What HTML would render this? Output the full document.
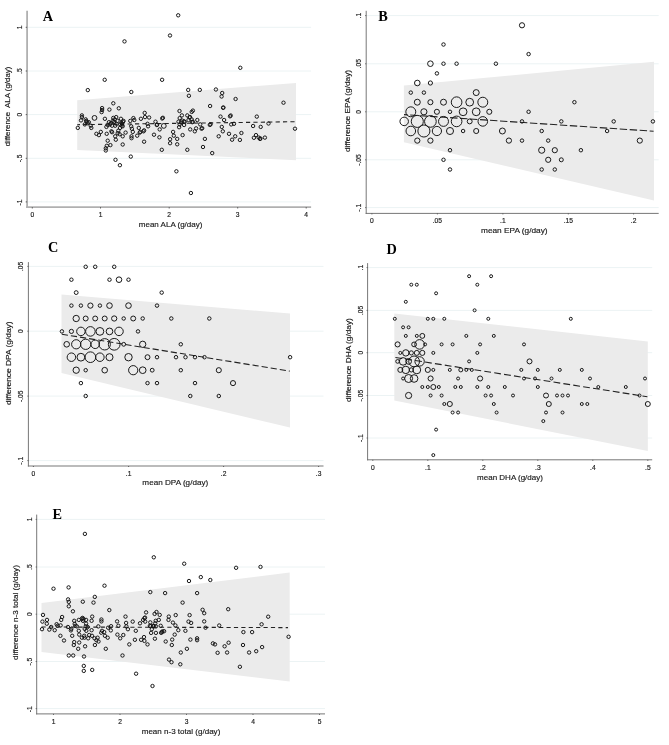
<!DOCTYPE html><html><head><meta charset="utf-8"><title>Figure</title><style>html,body{margin:0;padding:0;background:#fff}svg{display:block}text{font-family:"Liberation Sans",sans-serif;fill:#1a1a1a;stroke:#1a1a1a;stroke-width:1.6}.t{font-size:67.0px}.l{font-size:81.0px}.v{font-size:71px}.p{font-family:"Liberation Serif",serif;font-weight:bold;font-size:14.3px;fill:#000;stroke:none}circle{fill:none;stroke:#141414;stroke-width:0.98}</style></head><body>
<svg width="669" height="745" viewBox="0 0 669 745">
<rect width="669" height="745" fill="#fff"/>
<g><line x1="27.1" y1="27.3" x2="311.1" y2="27.3" stroke="#ecf3f4" stroke-width="1.0"/><line x1="27.1" y1="71.0" x2="311.1" y2="71.0" stroke="#ecf3f4" stroke-width="1.0"/><line x1="27.1" y1="114.6" x2="311.1" y2="114.6" stroke="#ecf3f4" stroke-width="1.0"/><line x1="27.1" y1="158.3" x2="311.1" y2="158.3" stroke="#ecf3f4" stroke-width="1.0"/><line x1="27.1" y1="201.9" x2="311.1" y2="201.9" stroke="#ecf3f4" stroke-width="1.0"/><polygon points="77.2,100.3 296.0,82.9 296.0,160.2 77.2,150.0" fill="#ebebeb"/><line x1="77.2" y1="124.7" x2="295.8" y2="121.7" stroke="#222" stroke-width="1.1" stroke-dasharray="4.2 3.2" stroke-dashoffset="1.4"/><g style="stroke-width:0.9"><circle cx="87.8" cy="90.1" r="1.70"/><circle cx="131.3" cy="92.0" r="1.70"/><circle cx="113.3" cy="103.3" r="1.70"/><circle cx="118.8" cy="108.3" r="1.70"/><circle cx="109.4" cy="109.6" r="1.70"/><circle cx="102.1" cy="108.1" r="1.70"/><circle cx="102.1" cy="110.0" r="1.70"/><circle cx="101.6" cy="112.1" r="1.70"/><circle cx="81.9" cy="115.4" r="1.70"/><circle cx="81.9" cy="117.1" r="1.70"/><circle cx="81.0" cy="120.4" r="1.70"/><circle cx="85.7" cy="119.4" r="1.70"/><circle cx="86.7" cy="121.7" r="1.70"/><circle cx="88.8" cy="122.2" r="1.70"/><circle cx="84.8" cy="124.4" r="1.70"/><circle cx="90.7" cy="125.7" r="1.70"/><circle cx="91.3" cy="127.9" r="1.70"/><circle cx="77.8" cy="127.9" r="1.70"/><circle cx="104.9" cy="118.8" r="1.70"/><circle cx="113.3" cy="117.9" r="1.70"/><circle cx="116.2" cy="117.1" r="1.70"/><circle cx="114.6" cy="119.4" r="1.70"/><circle cx="120.9" cy="118.8" r="1.70"/><circle cx="117.5" cy="120.9" r="1.70"/><circle cx="123.0" cy="121.7" r="1.70"/><circle cx="123.5" cy="120.9" r="1.70"/><circle cx="122.1" cy="123.8" r="1.70"/><circle cx="121.5" cy="122.9" r="1.70"/><circle cx="108.9" cy="122.2" r="1.70"/><circle cx="109.9" cy="124.4" r="1.70"/><circle cx="107.7" cy="125.0" r="1.70"/><circle cx="106.4" cy="126.9" r="1.70"/><circle cx="112.1" cy="125.7" r="1.70"/><circle cx="115.2" cy="125.7" r="1.70"/><circle cx="120.0" cy="127.9" r="1.70"/><circle cx="122.7" cy="126.3" r="1.70"/><circle cx="118.3" cy="130.7" r="1.70"/><circle cx="117.7" cy="133.2" r="1.70"/><circle cx="112.1" cy="132.2" r="1.70"/><circle cx="111.4" cy="131.3" r="1.70"/><circle cx="106.7" cy="133.8" r="1.70"/><circle cx="100.8" cy="131.9" r="1.70"/><circle cx="98.9" cy="135.1" r="1.70"/><circle cx="96.4" cy="133.8" r="1.70"/><circle cx="115.2" cy="136.3" r="1.70"/><circle cx="119.6" cy="134.2" r="1.70"/><circle cx="122.7" cy="136.3" r="1.70"/><circle cx="125.6" cy="132.6" r="1.70"/><circle cx="115.8" cy="139.7" r="1.70"/><circle cx="107.7" cy="140.7" r="1.70"/><circle cx="110.4" cy="145.1" r="1.70"/><circle cx="106.8" cy="145.8" r="1.70"/><circle cx="105.8" cy="148.3" r="1.70"/><circle cx="105.8" cy="150.5" r="1.70"/><circle cx="122.7" cy="144.5" r="1.70"/><circle cx="130.3" cy="120.9" r="1.70"/><circle cx="133.4" cy="118.1" r="1.70"/><circle cx="134.3" cy="120.0" r="1.70"/><circle cx="131.2" cy="126.3" r="1.70"/><circle cx="131.9" cy="128.8" r="1.70"/><circle cx="132.8" cy="131.9" r="1.70"/><circle cx="131.5" cy="136.3" r="1.70"/><circle cx="131.5" cy="138.2" r="1.70"/><circle cx="137.2" cy="135.7" r="1.70"/><circle cx="138.8" cy="127.9" r="1.70"/><circle cx="139.7" cy="132.6" r="1.70"/><circle cx="140.3" cy="131.9" r="1.70"/><circle cx="143.5" cy="131.3" r="1.70"/><circle cx="144.1" cy="130.4" r="1.70"/><circle cx="140.9" cy="118.8" r="1.70"/><circle cx="144.7" cy="112.9" r="1.70"/><circle cx="145.0" cy="117.1" r="1.70"/><circle cx="149.1" cy="117.5" r="1.70"/><circle cx="147.5" cy="123.8" r="1.70"/><circle cx="148.1" cy="126.3" r="1.70"/><circle cx="144.1" cy="141.7" r="1.70"/><circle cx="113.9" cy="121.9" r="1.70"/><circle cx="112.7" cy="120.9" r="1.70"/><circle cx="116.5" cy="123.8" r="1.70"/><circle cx="110.8" cy="123.2" r="1.70"/><circle cx="86.3" cy="120.9" r="1.70"/><circle cx="87.6" cy="123.2" r="1.70"/><circle cx="120.2" cy="124.4" r="1.70"/><circle cx="121.7" cy="125.7" r="1.70"/><circle cx="188.2" cy="89.9" r="1.70"/><circle cx="188.9" cy="95.8" r="1.70"/><circle cx="199.8" cy="89.9" r="1.70"/><circle cx="215.9" cy="89.5" r="1.70"/><circle cx="222.2" cy="93.0" r="1.70"/><circle cx="221.6" cy="96.5" r="1.70"/><circle cx="235.6" cy="99.0" r="1.70"/><circle cx="210.1" cy="106.0" r="1.70"/><circle cx="223.1" cy="107.8" r="1.70"/><circle cx="223.4" cy="107.5" r="1.70"/><circle cx="179.5" cy="111.0" r="1.70"/><circle cx="191.7" cy="111.9" r="1.70"/><circle cx="192.9" cy="110.6" r="1.70"/><circle cx="162.2" cy="118.5" r="1.70"/><circle cx="162.9" cy="117.8" r="1.70"/><circle cx="155.5" cy="121.7" r="1.70"/><circle cx="156.8" cy="125.0" r="1.70"/><circle cx="157.1" cy="124.7" r="1.70"/><circle cx="159.7" cy="129.4" r="1.70"/><circle cx="154.0" cy="134.7" r="1.70"/><circle cx="159.4" cy="137.3" r="1.70"/><circle cx="173.1" cy="131.9" r="1.70"/><circle cx="173.8" cy="135.7" r="1.70"/><circle cx="170.1" cy="139.2" r="1.70"/><circle cx="177.2" cy="138.9" r="1.70"/><circle cx="170.1" cy="143.2" r="1.70"/><circle cx="177.2" cy="144.3" r="1.70"/><circle cx="161.8" cy="149.8" r="1.70"/><circle cx="187.3" cy="149.8" r="1.70"/><circle cx="182.6" cy="135.1" r="1.70"/><circle cx="179.7" cy="118.1" r="1.70"/><circle cx="181.9" cy="115.4" r="1.70"/><circle cx="178.5" cy="121.7" r="1.70"/><circle cx="179.7" cy="124.4" r="1.70"/><circle cx="179.1" cy="127.2" r="1.70"/><circle cx="184.1" cy="121.3" r="1.70"/><circle cx="184.6" cy="121.9" r="1.70"/><circle cx="184.1" cy="125.0" r="1.70"/><circle cx="187.3" cy="115.4" r="1.70"/><circle cx="189.5" cy="117.5" r="1.70"/><circle cx="190.0" cy="117.0" r="1.70"/><circle cx="191.7" cy="119.4" r="1.70"/><circle cx="192.3" cy="122.2" r="1.70"/><circle cx="192.8" cy="121.7" r="1.70"/><circle cx="197.3" cy="120.0" r="1.70"/><circle cx="190.2" cy="129.4" r="1.70"/><circle cx="196.1" cy="128.4" r="1.70"/><circle cx="194.8" cy="131.3" r="1.70"/><circle cx="200.2" cy="124.4" r="1.70"/><circle cx="201.5" cy="128.7" r="1.70"/><circle cx="202.2" cy="128.2" r="1.70"/><circle cx="204.9" cy="138.9" r="1.70"/><circle cx="203.0" cy="147.0" r="1.70"/><circle cx="209.8" cy="124.9" r="1.70"/><circle cx="210.6" cy="124.3" r="1.70"/><circle cx="220.5" cy="116.6" r="1.70"/><circle cx="224.1" cy="120.0" r="1.70"/><circle cx="230.0" cy="116.3" r="1.70"/><circle cx="230.7" cy="115.5" r="1.70"/><circle cx="221.8" cy="126.9" r="1.70"/><circle cx="222.8" cy="131.3" r="1.70"/><circle cx="218.7" cy="136.3" r="1.70"/><circle cx="229.0" cy="133.8" r="1.70"/><circle cx="231.2" cy="124.4" r="1.70"/><circle cx="234.0" cy="123.8" r="1.70"/><circle cx="235.2" cy="136.3" r="1.70"/><circle cx="232.1" cy="139.7" r="1.70"/><circle cx="182.3" cy="120.6" r="1.70"/><circle cx="181.0" cy="122.5" r="1.70"/><circle cx="188.5" cy="120.0" r="1.70"/><circle cx="283.5" cy="102.7" r="1.70"/><circle cx="256.8" cy="116.6" r="1.70"/><circle cx="268.5" cy="123.5" r="1.70"/><circle cx="253.1" cy="126.0" r="1.70"/><circle cx="260.7" cy="126.9" r="1.70"/><circle cx="295.0" cy="128.7" r="1.70"/><circle cx="241.4" cy="133.0" r="1.70"/><circle cx="256.0" cy="135.1" r="1.70"/><circle cx="253.9" cy="137.8" r="1.70"/><circle cx="258.7" cy="137.6" r="1.70"/><circle cx="260.0" cy="138.9" r="1.70"/><circle cx="260.4" cy="138.5" r="1.70"/><circle cx="264.9" cy="137.6" r="1.70"/><circle cx="239.9" cy="139.9" r="1.70"/><circle cx="124.5" cy="41.4" r="1.70"/><circle cx="178.2" cy="15.3" r="1.70"/><circle cx="170.0" cy="35.5" r="1.70"/><circle cx="240.3" cy="67.8" r="1.70"/><circle cx="104.7" cy="79.8" r="1.70"/><circle cx="162.1" cy="79.8" r="1.70"/><circle cx="115.5" cy="159.8" r="1.70"/><circle cx="119.9" cy="165.2" r="1.70"/><circle cx="130.8" cy="156.6" r="1.70"/><circle cx="212.2" cy="153.1" r="1.70"/><circle cx="176.4" cy="171.3" r="1.70"/><circle cx="190.9" cy="193.0" r="1.70"/><circle cx="94.5" cy="117.9" r="2.40"/><circle cx="163.8" cy="125.9" r="2.40"/></g><line x1="27.1" y1="10.7" x2="27.1" y2="208.0" stroke="#b0b0b0" stroke-width="1.8"/><line x1="26.2" y1="207.1" x2="311.1" y2="207.1" stroke="#b0b0b0" stroke-width="1.8"/><line x1="25.7" y1="27.3" x2="27.1" y2="27.3" stroke="#444" stroke-width="0.8"/><text class="t" text-anchor="middle" transform="translate(22.10,27.30) rotate(-90) scale(0.1)">1</text><line x1="25.7" y1="71.0" x2="27.1" y2="71.0" stroke="#444" stroke-width="0.8"/><text class="t" text-anchor="middle" transform="translate(22.10,71.00) rotate(-90) scale(0.1)">.5</text><line x1="25.7" y1="114.6" x2="27.1" y2="114.6" stroke="#444" stroke-width="0.8"/><text class="t" text-anchor="middle" transform="translate(22.10,114.60) rotate(-90) scale(0.1)">0</text><line x1="25.7" y1="158.3" x2="27.1" y2="158.3" stroke="#444" stroke-width="0.8"/><text class="t" text-anchor="middle" transform="translate(22.10,158.45) rotate(-90) scale(0.1)">-.5</text><line x1="25.7" y1="201.9" x2="27.1" y2="201.9" stroke="#444" stroke-width="0.8"/><text class="t" text-anchor="middle" transform="translate(22.10,202.60) rotate(-90) scale(0.1)">-1</text><line x1="32.3" y1="207.1" x2="32.3" y2="208.5" stroke="#444" stroke-width="0.8"/><text class="t" text-anchor="middle" transform="translate(32.30,216.85) scale(0.1)">0</text><line x1="100.5" y1="207.1" x2="100.5" y2="208.5" stroke="#444" stroke-width="0.8"/><text class="t" text-anchor="middle" transform="translate(100.50,216.85) scale(0.1)">1</text><line x1="169.2" y1="207.1" x2="169.2" y2="208.5" stroke="#444" stroke-width="0.8"/><text class="t" text-anchor="middle" transform="translate(169.20,216.85) scale(0.1)">2</text><line x1="237.7" y1="207.1" x2="237.7" y2="208.5" stroke="#444" stroke-width="0.8"/><text class="t" text-anchor="middle" transform="translate(237.70,216.85) scale(0.1)">3</text><line x1="306.2" y1="207.1" x2="306.2" y2="208.5" stroke="#444" stroke-width="0.8"/><text class="t" text-anchor="middle" transform="translate(306.20,216.85) scale(0.1)">4</text><text class="l" text-anchor="middle" transform="translate(170.60,227.20) scale(0.0988,0.1)" xml:space="preserve">mean ALA (g/day)</text><text class="v" text-anchor="middle" transform="translate(10.00,106.50) rotate(-90) scale(0.1113,0.1)" xml:space="preserve">difference  ALA (g/day)</text><text class="p" x="42.7" y="20.7">A</text></g>
<g><line x1="366.2" y1="15.6" x2="658.7" y2="15.6" stroke="#ecf3f4" stroke-width="1.0"/><line x1="366.2" y1="63.8" x2="658.7" y2="63.8" stroke="#ecf3f4" stroke-width="1.0"/><line x1="366.2" y1="111.8" x2="658.7" y2="111.8" stroke="#ecf3f4" stroke-width="1.0"/><line x1="366.2" y1="159.8" x2="658.7" y2="159.8" stroke="#ecf3f4" stroke-width="1.0"/><line x1="366.2" y1="207.6" x2="658.7" y2="207.6" stroke="#ecf3f4" stroke-width="1.0"/><polygon points="403.9,85.6 654.0,61.8 654.0,200.6 403.9,142.3" fill="#ebebeb"/><line x1="404.0" y1="114.6" x2="653.6" y2="131.2" stroke="#222" stroke-width="1.1" stroke-dasharray="7.4 2.6" stroke-dashoffset="3.8"/><g style="stroke-width:1.15"><circle cx="443.5" cy="44.5" r="1.74"/><circle cx="430.4" cy="63.7" r="2.81"/><circle cx="443.5" cy="63.7" r="1.74"/><circle cx="456.6" cy="63.7" r="1.74"/><circle cx="495.9" cy="63.7" r="1.74"/><circle cx="436.9" cy="73.4" r="1.74"/><circle cx="417.3" cy="83.0" r="2.81"/><circle cx="430.4" cy="83.0" r="2.10"/><circle cx="410.8" cy="92.6" r="1.74"/><circle cx="423.9" cy="92.6" r="1.74"/><circle cx="476.2" cy="92.6" r="2.99"/><circle cx="417.3" cy="102.2" r="2.99"/><circle cx="430.4" cy="102.2" r="2.55"/><circle cx="443.5" cy="102.2" r="2.99"/><circle cx="456.6" cy="102.2" r="5.33"/><circle cx="469.7" cy="102.2" r="3.89"/><circle cx="482.8" cy="102.2" r="4.97"/><circle cx="410.8" cy="111.8" r="4.97"/><circle cx="423.9" cy="111.8" r="3.08"/><circle cx="436.9" cy="111.8" r="2.55"/><circle cx="450.0" cy="111.8" r="1.74"/><circle cx="463.1" cy="111.8" r="3.89"/><circle cx="476.2" cy="111.8" r="3.89"/><circle cx="489.3" cy="111.8" r="2.55"/><circle cx="404.2" cy="121.4" r="4.25"/><circle cx="417.3" cy="121.4" r="6.04"/><circle cx="430.4" cy="121.4" r="5.86"/><circle cx="443.5" cy="121.4" r="4.97"/><circle cx="456.6" cy="121.4" r="5.33"/><circle cx="469.7" cy="121.4" r="2.46"/><circle cx="482.8" cy="121.4" r="4.79"/><circle cx="410.8" cy="131.0" r="4.79"/><circle cx="423.9" cy="131.0" r="6.04"/><circle cx="436.9" cy="131.0" r="4.61"/><circle cx="450.0" cy="131.0" r="3.53"/><circle cx="463.1" cy="131.0" r="1.74"/><circle cx="476.2" cy="131.0" r="2.55"/><circle cx="502.4" cy="131.0" r="2.99"/><circle cx="417.3" cy="140.6" r="2.63"/><circle cx="430.4" cy="140.6" r="2.63"/><circle cx="508.9" cy="140.6" r="2.63"/><circle cx="450.0" cy="150.2" r="1.74"/><circle cx="443.5" cy="159.8" r="1.74"/><circle cx="450.0" cy="169.5" r="1.74"/><circle cx="522.0" cy="25.3" r="2.60"/><circle cx="528.6" cy="54.1" r="1.74"/><circle cx="574.4" cy="102.2" r="1.74"/><circle cx="528.6" cy="111.8" r="1.74"/><circle cx="522.0" cy="121.4" r="1.74"/><circle cx="561.3" cy="121.4" r="1.74"/><circle cx="613.7" cy="121.4" r="1.74"/><circle cx="652.9" cy="121.4" r="1.74"/><circle cx="541.7" cy="131.0" r="1.74"/><circle cx="607.1" cy="131.0" r="1.74"/><circle cx="522.0" cy="140.6" r="1.74"/><circle cx="548.2" cy="140.6" r="1.74"/><circle cx="639.8" cy="140.6" r="2.60"/><circle cx="541.7" cy="150.2" r="3.10"/><circle cx="554.8" cy="150.2" r="2.60"/><circle cx="580.9" cy="150.2" r="1.74"/><circle cx="548.2" cy="159.8" r="2.60"/><circle cx="561.3" cy="159.8" r="2.00"/><circle cx="541.7" cy="169.5" r="1.74"/><circle cx="554.8" cy="169.5" r="1.74"/></g><line x1="366.2" y1="10.8" x2="366.2" y2="213.9" stroke="#707070" stroke-width="0.95"/><line x1="365.7" y1="213.4" x2="658.7" y2="213.4" stroke="#707070" stroke-width="0.95"/><line x1="365.2" y1="15.6" x2="366.2" y2="15.6" stroke="#444" stroke-width="0.8"/><text class="t" text-anchor="middle" transform="translate(361.20,15.60) rotate(-90) scale(0.1)">.1</text><line x1="365.2" y1="63.8" x2="366.2" y2="63.8" stroke="#444" stroke-width="0.8"/><text class="t" text-anchor="middle" transform="translate(361.20,63.80) rotate(-90) scale(0.1)">.05</text><line x1="365.2" y1="111.8" x2="366.2" y2="111.8" stroke="#444" stroke-width="0.8"/><text class="t" text-anchor="middle" transform="translate(361.20,111.80) rotate(-90) scale(0.1)">0</text><line x1="365.2" y1="159.8" x2="366.2" y2="159.8" stroke="#444" stroke-width="0.8"/><text class="t" text-anchor="middle" transform="translate(361.20,159.95) rotate(-90) scale(0.1)">-.05</text><line x1="365.2" y1="207.6" x2="366.2" y2="207.6" stroke="#444" stroke-width="0.8"/><text class="t" text-anchor="middle" transform="translate(361.20,207.75) rotate(-90) scale(0.1)">-.1</text><line x1="371.9" y1="213.4" x2="371.9" y2="214.4" stroke="#444" stroke-width="0.8"/><text class="t" text-anchor="middle" transform="translate(371.90,223.20) scale(0.1)">0</text><line x1="437.4" y1="213.4" x2="437.4" y2="214.4" stroke="#444" stroke-width="0.8"/><text class="t" text-anchor="middle" transform="translate(437.40,223.20) scale(0.1)">.05</text><line x1="502.9" y1="213.4" x2="502.9" y2="214.4" stroke="#444" stroke-width="0.8"/><text class="t" text-anchor="middle" transform="translate(502.90,223.20) scale(0.1)">.1</text><line x1="568.3" y1="213.4" x2="568.3" y2="214.4" stroke="#444" stroke-width="0.8"/><text class="t" text-anchor="middle" transform="translate(568.30,223.20) scale(0.1)">.15</text><line x1="633.6" y1="213.4" x2="633.6" y2="214.4" stroke="#444" stroke-width="0.8"/><text class="t" text-anchor="middle" transform="translate(633.60,223.20) scale(0.1)">.2</text><text class="l" text-anchor="middle" transform="translate(514.30,233.00) scale(0.1025,0.1)" xml:space="preserve">mean EPA (g/day)</text><text class="v" text-anchor="middle" transform="translate(349.50,111.00) rotate(-90) scale(0.1169,0.1)" xml:space="preserve">difference EPA (g/day)</text><text class="p" x="378.2" y="20.7">B</text></g>
<g><line x1="28.4" y1="266.4" x2="323.5" y2="266.4" stroke="#ecf3f4" stroke-width="1.0"/><line x1="28.4" y1="331.2" x2="323.5" y2="331.2" stroke="#ecf3f4" stroke-width="1.0"/><line x1="28.4" y1="396.1" x2="323.5" y2="396.1" stroke="#ecf3f4" stroke-width="1.0"/><line x1="28.4" y1="460.6" x2="323.5" y2="460.6" stroke="#ecf3f4" stroke-width="1.0"/><polygon points="61.5,294.6 290.0,313.5 290.0,427.5 61.5,373.0" fill="#ebebeb"/><line x1="61.8" y1="334.2" x2="289.7" y2="371.1" stroke="#222" stroke-width="1.1" stroke-dasharray="6.2 3.0" stroke-dashoffset="0"/><g style="stroke-width:1.15"><circle cx="85.7" cy="266.8" r="1.74"/><circle cx="95.2" cy="266.8" r="1.74"/><circle cx="114.2" cy="266.8" r="1.74"/><circle cx="71.4" cy="279.7" r="1.74"/><circle cx="109.5" cy="279.7" r="1.74"/><circle cx="119.0" cy="279.7" r="2.81"/><circle cx="128.5" cy="279.7" r="1.74"/><circle cx="76.2" cy="292.6" r="1.92"/><circle cx="161.7" cy="292.6" r="1.74"/><circle cx="71.4" cy="305.6" r="1.74"/><circle cx="80.9" cy="305.6" r="1.74"/><circle cx="90.4" cy="305.6" r="2.63"/><circle cx="99.9" cy="305.6" r="1.74"/><circle cx="109.5" cy="305.6" r="2.81"/><circle cx="128.5" cy="305.6" r="2.81"/><circle cx="157.0" cy="305.6" r="1.74"/><circle cx="76.2" cy="318.5" r="3.17"/><circle cx="85.7" cy="318.5" r="2.46"/><circle cx="95.2" cy="318.5" r="2.46"/><circle cx="104.7" cy="318.5" r="2.46"/><circle cx="114.2" cy="318.5" r="2.63"/><circle cx="123.7" cy="318.5" r="1.74"/><circle cx="133.2" cy="318.5" r="2.46"/><circle cx="142.7" cy="318.5" r="1.74"/><circle cx="171.3" cy="318.5" r="1.74"/><circle cx="209.3" cy="318.5" r="1.74"/><circle cx="61.9" cy="331.4" r="1.74"/><circle cx="71.4" cy="331.4" r="2.10"/><circle cx="80.9" cy="331.4" r="4.25"/><circle cx="90.4" cy="331.4" r="4.79"/><circle cx="99.9" cy="331.4" r="3.89"/><circle cx="109.5" cy="331.4" r="3.35"/><circle cx="119.0" cy="331.4" r="4.25"/><circle cx="138.0" cy="331.4" r="1.74"/><circle cx="66.7" cy="344.3" r="2.81"/><circle cx="76.2" cy="344.3" r="4.61"/><circle cx="85.7" cy="344.3" r="5.15"/><circle cx="95.2" cy="344.3" r="4.25"/><circle cx="104.7" cy="344.3" r="5.68"/><circle cx="114.2" cy="344.3" r="5.86"/><circle cx="123.7" cy="344.3" r="1.92"/><circle cx="142.7" cy="344.3" r="3.17"/><circle cx="180.8" cy="344.3" r="1.74"/><circle cx="71.4" cy="357.2" r="4.25"/><circle cx="80.9" cy="357.2" r="3.89"/><circle cx="90.4" cy="357.2" r="5.33"/><circle cx="99.9" cy="357.2" r="4.25"/><circle cx="109.5" cy="357.2" r="3.53"/><circle cx="128.5" cy="357.2" r="3.71"/><circle cx="147.5" cy="357.2" r="2.46"/><circle cx="157.0" cy="357.2" r="1.74"/><circle cx="176.0" cy="357.2" r="1.74"/><circle cx="185.5" cy="357.2" r="1.74"/><circle cx="195.0" cy="357.2" r="1.74"/><circle cx="204.5" cy="357.2" r="1.74"/><circle cx="290.1" cy="357.2" r="1.74"/><circle cx="76.2" cy="370.2" r="3.17"/><circle cx="85.7" cy="370.2" r="1.74"/><circle cx="104.7" cy="370.2" r="2.81"/><circle cx="133.2" cy="370.2" r="4.61"/><circle cx="142.7" cy="370.2" r="3.35"/><circle cx="152.2" cy="370.2" r="1.92"/><circle cx="180.8" cy="370.2" r="1.74"/><circle cx="218.8" cy="370.2" r="2.55"/><circle cx="80.9" cy="383.1" r="1.74"/><circle cx="147.5" cy="383.1" r="1.74"/><circle cx="157.0" cy="383.1" r="1.74"/><circle cx="195.0" cy="383.1" r="1.74"/><circle cx="233.0" cy="383.1" r="2.55"/><circle cx="85.7" cy="396.0" r="1.74"/><circle cx="190.3" cy="396.0" r="1.74"/><circle cx="218.8" cy="396.0" r="1.74"/></g><line x1="28.4" y1="262.1" x2="28.4" y2="466.5" stroke="#707070" stroke-width="0.95"/><line x1="27.9" y1="466.0" x2="323.5" y2="466.0" stroke="#707070" stroke-width="0.95"/><line x1="27.4" y1="266.4" x2="28.4" y2="266.4" stroke="#444" stroke-width="0.8"/><text class="t" text-anchor="middle" transform="translate(23.40,266.40) rotate(-90) scale(0.1)">.05</text><line x1="27.4" y1="331.2" x2="28.4" y2="331.2" stroke="#444" stroke-width="0.8"/><text class="t" text-anchor="middle" transform="translate(23.40,331.20) rotate(-90) scale(0.1)">0</text><line x1="27.4" y1="396.1" x2="28.4" y2="396.1" stroke="#444" stroke-width="0.8"/><text class="t" text-anchor="middle" transform="translate(23.40,396.25) rotate(-90) scale(0.1)">-.05</text><line x1="27.4" y1="460.6" x2="28.4" y2="460.6" stroke="#444" stroke-width="0.8"/><text class="t" text-anchor="middle" transform="translate(23.40,460.75) rotate(-90) scale(0.1)">-.1</text><line x1="33.4" y1="466.0" x2="33.4" y2="467.0" stroke="#444" stroke-width="0.8"/><text class="t" text-anchor="middle" transform="translate(33.40,475.80) scale(0.1)">0</text><line x1="128.6" y1="466.0" x2="128.6" y2="467.0" stroke="#444" stroke-width="0.8"/><text class="t" text-anchor="middle" transform="translate(128.60,475.80) scale(0.1)">.1</text><line x1="223.6" y1="466.0" x2="223.6" y2="467.0" stroke="#444" stroke-width="0.8"/><text class="t" text-anchor="middle" transform="translate(223.60,475.80) scale(0.1)">.2</text><line x1="318.6" y1="466.0" x2="318.6" y2="467.0" stroke="#444" stroke-width="0.8"/><text class="t" text-anchor="middle" transform="translate(318.60,475.80) scale(0.1)">.3</text><text class="l" text-anchor="middle" transform="translate(175.30,485.40) scale(0.1006,0.1)" xml:space="preserve">mean DPA (g/day)</text><text class="v" text-anchor="middle" transform="translate(11.30,363.20) rotate(-90) scale(0.1183,0.1)" xml:space="preserve">difference DPA (g/day)</text><text class="p" x="47.9" y="251.8">C</text></g>
<g><line x1="367.6" y1="267.6" x2="652.2" y2="267.6" stroke="#ecf3f4" stroke-width="1.0"/><line x1="367.6" y1="310.4" x2="652.2" y2="310.4" stroke="#ecf3f4" stroke-width="1.0"/><line x1="367.6" y1="352.7" x2="652.2" y2="352.7" stroke="#ecf3f4" stroke-width="1.0"/><line x1="367.6" y1="395.5" x2="652.2" y2="395.5" stroke="#ecf3f4" stroke-width="1.0"/><line x1="367.6" y1="438.0" x2="652.2" y2="438.0" stroke="#ecf3f4" stroke-width="1.0"/><polygon points="394.3,313.4 647.8,341.6 647.8,451.0 394.3,400.5" fill="#ebebeb"/><line x1="394.6" y1="357.3" x2="647.4" y2="396.7" stroke="#222" stroke-width="1.1" stroke-dasharray="6.8 3.2" stroke-dashoffset="-0.8"/><g style="stroke-width:1.0"><circle cx="469.1" cy="276.2" r="1.50"/><circle cx="491.1" cy="276.2" r="1.50"/><circle cx="411.3" cy="284.7" r="1.50"/><circle cx="416.8" cy="284.7" r="1.50"/><circle cx="477.3" cy="284.7" r="1.50"/><circle cx="436.1" cy="293.3" r="1.50"/><circle cx="405.8" cy="301.8" r="1.50"/><circle cx="474.6" cy="310.3" r="1.50"/><circle cx="394.8" cy="318.8" r="1.50"/><circle cx="427.8" cy="318.8" r="1.50"/><circle cx="433.3" cy="318.8" r="1.50"/><circle cx="444.3" cy="318.8" r="1.50"/><circle cx="488.3" cy="318.8" r="1.50"/><circle cx="570.8" cy="318.8" r="1.50"/><circle cx="403.1" cy="327.3" r="1.50"/><circle cx="408.6" cy="327.3" r="1.50"/><circle cx="405.8" cy="335.9" r="1.50"/><circle cx="416.8" cy="335.9" r="1.50"/><circle cx="422.3" cy="335.9" r="2.45"/><circle cx="466.3" cy="335.9" r="1.50"/><circle cx="493.8" cy="335.9" r="1.50"/><circle cx="397.6" cy="344.4" r="2.55"/><circle cx="414.1" cy="344.4" r="2.40"/><circle cx="419.6" cy="344.4" r="4.80"/><circle cx="425.1" cy="344.4" r="1.50"/><circle cx="441.6" cy="344.4" r="1.50"/><circle cx="452.6" cy="344.4" r="1.50"/><circle cx="480.1" cy="344.4" r="1.50"/><circle cx="524.0" cy="344.4" r="1.50"/><circle cx="400.3" cy="352.9" r="1.50"/><circle cx="405.8" cy="352.9" r="3.20"/><circle cx="411.3" cy="352.9" r="2.10"/><circle cx="416.8" cy="352.9" r="2.50"/><circle cx="422.3" cy="352.9" r="2.55"/><circle cx="433.3" cy="352.9" r="1.50"/><circle cx="477.3" cy="352.9" r="1.50"/><circle cx="397.6" cy="361.4" r="1.85"/><circle cx="403.1" cy="361.4" r="3.80"/><circle cx="408.6" cy="361.4" r="2.90"/><circle cx="414.1" cy="361.4" r="5.40"/><circle cx="419.6" cy="361.4" r="4.70"/><circle cx="469.1" cy="361.4" r="1.50"/><circle cx="529.5" cy="361.4" r="2.50"/><circle cx="400.3" cy="369.9" r="2.50"/><circle cx="405.8" cy="369.9" r="3.70"/><circle cx="411.3" cy="369.9" r="2.10"/><circle cx="416.8" cy="369.9" r="3.90"/><circle cx="427.8" cy="369.9" r="2.55"/><circle cx="433.3" cy="369.9" r="1.50"/><circle cx="449.8" cy="369.9" r="1.50"/><circle cx="460.8" cy="369.9" r="2.00"/><circle cx="466.3" cy="369.9" r="1.50"/><circle cx="471.8" cy="369.9" r="1.50"/><circle cx="521.3" cy="369.9" r="1.50"/><circle cx="537.8" cy="369.9" r="1.50"/><circle cx="559.8" cy="369.9" r="1.50"/><circle cx="581.8" cy="369.9" r="1.50"/><circle cx="403.1" cy="378.5" r="1.50"/><circle cx="408.6" cy="378.5" r="4.00"/><circle cx="414.1" cy="378.5" r="3.80"/><circle cx="430.6" cy="378.5" r="2.55"/><circle cx="458.1" cy="378.5" r="1.50"/><circle cx="480.1" cy="378.5" r="2.55"/><circle cx="524.0" cy="378.5" r="1.50"/><circle cx="535.0" cy="378.5" r="1.50"/><circle cx="551.5" cy="378.5" r="1.50"/><circle cx="590.0" cy="378.5" r="1.50"/><circle cx="645.0" cy="378.5" r="1.50"/><circle cx="422.3" cy="387.0" r="1.50"/><circle cx="427.8" cy="387.0" r="1.50"/><circle cx="433.3" cy="387.0" r="2.50"/><circle cx="438.8" cy="387.0" r="1.50"/><circle cx="455.3" cy="387.0" r="1.50"/><circle cx="460.8" cy="387.0" r="1.50"/><circle cx="477.3" cy="387.0" r="1.50"/><circle cx="488.3" cy="387.0" r="1.50"/><circle cx="504.8" cy="387.0" r="1.50"/><circle cx="537.8" cy="387.0" r="1.50"/><circle cx="598.3" cy="387.0" r="1.50"/><circle cx="625.8" cy="387.0" r="1.50"/><circle cx="408.6" cy="395.5" r="3.10"/><circle cx="430.6" cy="395.5" r="1.50"/><circle cx="441.6" cy="395.5" r="1.50"/><circle cx="485.6" cy="395.5" r="1.50"/><circle cx="491.1" cy="395.5" r="1.50"/><circle cx="513.0" cy="395.5" r="1.50"/><circle cx="546.0" cy="395.5" r="2.50"/><circle cx="557.0" cy="395.5" r="1.50"/><circle cx="562.5" cy="395.5" r="1.50"/><circle cx="568.0" cy="395.5" r="1.50"/><circle cx="639.5" cy="395.5" r="1.50"/><circle cx="444.3" cy="404.0" r="1.50"/><circle cx="449.8" cy="404.0" r="2.55"/><circle cx="493.8" cy="404.0" r="1.50"/><circle cx="548.8" cy="404.0" r="2.50"/><circle cx="581.8" cy="404.0" r="1.50"/><circle cx="587.3" cy="404.0" r="1.50"/><circle cx="647.8" cy="404.0" r="2.50"/><circle cx="452.6" cy="412.5" r="1.50"/><circle cx="458.1" cy="412.5" r="1.50"/><circle cx="496.6" cy="412.5" r="1.50"/><circle cx="546.0" cy="412.5" r="1.50"/><circle cx="562.5" cy="412.5" r="1.50"/><circle cx="543.3" cy="421.1" r="1.50"/><circle cx="436.1" cy="429.6" r="1.50"/><circle cx="433.3" cy="455.1" r="1.50"/></g><line x1="367.6" y1="263.1" x2="367.6" y2="460.3" stroke="#707070" stroke-width="0.95"/><line x1="367.1" y1="459.8" x2="652.2" y2="459.8" stroke="#707070" stroke-width="0.95"/><line x1="366.6" y1="267.6" x2="367.6" y2="267.6" stroke="#444" stroke-width="0.8"/><text class="t" text-anchor="middle" transform="translate(362.60,267.60) rotate(-90) scale(0.1)">.1</text><line x1="366.6" y1="310.4" x2="367.6" y2="310.4" stroke="#444" stroke-width="0.8"/><text class="t" text-anchor="middle" transform="translate(362.60,310.40) rotate(-90) scale(0.1)">.05</text><line x1="366.6" y1="352.7" x2="367.6" y2="352.7" stroke="#444" stroke-width="0.8"/><text class="t" text-anchor="middle" transform="translate(362.60,352.70) rotate(-90) scale(0.1)">0</text><line x1="366.6" y1="395.5" x2="367.6" y2="395.5" stroke="#444" stroke-width="0.8"/><text class="t" text-anchor="middle" transform="translate(362.60,395.65) rotate(-90) scale(0.1)">-.05</text><line x1="366.6" y1="438.0" x2="367.6" y2="438.0" stroke="#444" stroke-width="0.8"/><text class="t" text-anchor="middle" transform="translate(362.60,438.15) rotate(-90) scale(0.1)">-.1</text><line x1="372.8" y1="459.8" x2="372.8" y2="460.8" stroke="#444" stroke-width="0.8"/><text class="t" text-anchor="middle" transform="translate(372.80,469.60) scale(0.1)">0</text><line x1="427.8" y1="459.8" x2="427.8" y2="460.8" stroke="#444" stroke-width="0.8"/><text class="t" text-anchor="middle" transform="translate(427.80,469.60) scale(0.1)">.1</text><line x1="482.8" y1="459.8" x2="482.8" y2="460.8" stroke="#444" stroke-width="0.8"/><text class="t" text-anchor="middle" transform="translate(482.80,469.60) scale(0.1)">.2</text><line x1="537.8" y1="459.8" x2="537.8" y2="460.8" stroke="#444" stroke-width="0.8"/><text class="t" text-anchor="middle" transform="translate(537.80,469.60) scale(0.1)">.3</text><line x1="592.8" y1="459.8" x2="592.8" y2="460.8" stroke="#444" stroke-width="0.8"/><text class="t" text-anchor="middle" transform="translate(592.80,469.60) scale(0.1)">.4</text><line x1="647.8" y1="459.8" x2="647.8" y2="460.8" stroke="#444" stroke-width="0.8"/><text class="t" text-anchor="middle" transform="translate(647.80,469.60) scale(0.1)">.5</text><text class="l" text-anchor="middle" transform="translate(510.00,480.40) scale(0.0988,0.1)" xml:space="preserve">mean DHA (g/day)</text><text class="v" text-anchor="middle" transform="translate(351.00,360.00) rotate(-90) scale(0.1169,0.1)" xml:space="preserve">difference DHA (g/day)</text><text class="p" x="386.4" y="253.8">D</text></g>
<g><line x1="36.7" y1="519.4" x2="325.0" y2="519.4" stroke="#ecf3f4" stroke-width="1.0"/><line x1="36.7" y1="567.0" x2="325.0" y2="567.0" stroke="#ecf3f4" stroke-width="1.0"/><line x1="36.7" y1="614.2" x2="325.0" y2="614.2" stroke="#ecf3f4" stroke-width="1.0"/><line x1="36.7" y1="661.5" x2="325.0" y2="661.5" stroke="#ecf3f4" stroke-width="1.0"/><line x1="36.7" y1="708.6" x2="325.0" y2="708.6" stroke="#ecf3f4" stroke-width="1.0"/><polygon points="41.5,603.0 289.7,572.6 289.7,681.6 41.5,652.0" fill="#ebebeb"/><line x1="41.5" y1="627.0" x2="288.0" y2="627.6" stroke="#222" stroke-width="1.1" stroke-dasharray="4.2 3.2" stroke-dashoffset="0"/><g style="stroke-width:0.9"><circle cx="68.1" cy="599.4" r="1.70"/><circle cx="68.8" cy="601.9" r="1.70"/><circle cx="68.8" cy="606.3" r="1.70"/><circle cx="72.9" cy="611.3" r="1.70"/><circle cx="82.8" cy="601.7" r="1.70"/><circle cx="94.8" cy="596.9" r="1.70"/><circle cx="93.5" cy="602.6" r="1.70"/><circle cx="109.3" cy="610.1" r="1.70"/><circle cx="43.0" cy="614.9" r="1.70"/><circle cx="62.1" cy="617.0" r="1.70"/><circle cx="61.2" cy="619.9" r="1.70"/><circle cx="47.0" cy="619.9" r="1.70"/><circle cx="42.4" cy="621.6" r="1.70"/><circle cx="46.8" cy="623.7" r="1.70"/><circle cx="42.0" cy="629.2" r="1.70"/><circle cx="49.3" cy="629.6" r="1.70"/><circle cx="51.2" cy="627.0" r="1.70"/><circle cx="54.7" cy="630.2" r="1.70"/><circle cx="56.6" cy="624.2" r="1.70"/><circle cx="57.5" cy="625.8" r="1.70"/><circle cx="60.6" cy="625.4" r="1.70"/><circle cx="67.9" cy="627.0" r="1.70"/><circle cx="70.9" cy="630.4" r="1.70"/><circle cx="74.2" cy="620.8" r="1.70"/><circle cx="74.7" cy="623.9" r="1.70"/><circle cx="75.4" cy="625.8" r="1.70"/><circle cx="78.8" cy="619.9" r="1.70"/><circle cx="82.6" cy="617.9" r="1.70"/><circle cx="83.0" cy="620.8" r="1.70"/><circle cx="86.1" cy="619.9" r="1.70"/><circle cx="86.1" cy="623.7" r="1.70"/><circle cx="92.2" cy="616.6" r="1.70"/><circle cx="91.6" cy="620.8" r="1.70"/><circle cx="101.4" cy="619.5" r="1.70"/><circle cx="101.4" cy="621.4" r="1.70"/><circle cx="85.7" cy="626.4" r="1.70"/><circle cx="87.6" cy="627.0" r="1.70"/><circle cx="84.7" cy="628.9" r="1.70"/><circle cx="86.3" cy="630.8" r="1.70"/><circle cx="78.8" cy="630.8" r="1.70"/><circle cx="91.6" cy="630.2" r="1.70"/><circle cx="98.3" cy="626.4" r="1.70"/><circle cx="79.2" cy="634.6" r="1.70"/><circle cx="72.2" cy="635.8" r="1.70"/><circle cx="60.4" cy="635.8" r="1.70"/><circle cx="64.0" cy="640.5" r="1.70"/><circle cx="81.9" cy="637.7" r="1.70"/><circle cx="84.5" cy="637.7" r="1.70"/><circle cx="84.2" cy="635.8" r="1.70"/><circle cx="88.2" cy="638.3" r="1.70"/><circle cx="89.2" cy="635.0" r="1.70"/><circle cx="92.0" cy="635.8" r="1.70"/><circle cx="94.5" cy="638.3" r="1.70"/><circle cx="97.6" cy="637.7" r="1.70"/><circle cx="96.4" cy="640.2" r="1.70"/><circle cx="98.5" cy="641.5" r="1.70"/><circle cx="94.9" cy="645.0" r="1.70"/><circle cx="79.2" cy="642.5" r="1.70"/><circle cx="74.2" cy="642.1" r="1.70"/><circle cx="73.8" cy="645.0" r="1.70"/><circle cx="85.1" cy="646.3" r="1.70"/><circle cx="78.2" cy="648.8" r="1.70"/><circle cx="105.8" cy="648.8" r="1.70"/><circle cx="102.0" cy="630.8" r="1.70"/><circle cx="101.2" cy="632.7" r="1.70"/><circle cx="104.2" cy="632.1" r="1.70"/><circle cx="104.9" cy="635.8" r="1.70"/><circle cx="107.7" cy="637.7" r="1.70"/><circle cx="108.1" cy="627.7" r="1.70"/><circle cx="111.1" cy="626.2" r="1.70"/><circle cx="110.8" cy="630.4" r="1.70"/><circle cx="117.1" cy="621.4" r="1.70"/><circle cx="118.4" cy="625.8" r="1.70"/><circle cx="117.4" cy="634.6" r="1.70"/><circle cx="120.2" cy="638.3" r="1.70"/><circle cx="76.9" cy="626.4" r="1.70"/><circle cx="71.3" cy="628.9" r="1.70"/><circle cx="81.9" cy="618.6" r="1.70"/><circle cx="83.5" cy="619.1" r="1.70"/><circle cx="150.3" cy="592.1" r="1.70"/><circle cx="165.1" cy="593.1" r="1.70"/><circle cx="197.1" cy="593.1" r="1.70"/><circle cx="182.6" cy="602.6" r="1.70"/><circle cx="202.6" cy="609.8" r="1.70"/><circle cx="204.2" cy="613.2" r="1.70"/><circle cx="146.1" cy="612.4" r="1.70"/><circle cx="156.5" cy="612.0" r="1.70"/><circle cx="154.6" cy="613.9" r="1.70"/><circle cx="159.7" cy="614.9" r="1.70"/><circle cx="125.5" cy="616.6" r="1.70"/><circle cx="145.0" cy="617.6" r="1.70"/><circle cx="144.5" cy="618.1" r="1.70"/><circle cx="143.1" cy="619.9" r="1.70"/><circle cx="145.2" cy="621.6" r="1.70"/><circle cx="132.7" cy="621.6" r="1.70"/><circle cx="126.1" cy="622.9" r="1.70"/><circle cx="140.0" cy="623.3" r="1.70"/><circle cx="126.4" cy="626.4" r="1.70"/><circle cx="127.9" cy="629.2" r="1.70"/><circle cx="135.8" cy="630.8" r="1.70"/><circle cx="123.3" cy="635.0" r="1.70"/><circle cx="150.3" cy="622.4" r="1.70"/><circle cx="155.7" cy="620.8" r="1.70"/><circle cx="158.8" cy="619.9" r="1.70"/><circle cx="155.3" cy="623.3" r="1.70"/><circle cx="149.9" cy="625.8" r="1.70"/><circle cx="150.6" cy="626.2" r="1.70"/><circle cx="153.0" cy="625.9" r="1.70"/><circle cx="153.8" cy="626.4" r="1.70"/><circle cx="155.9" cy="626.4" r="1.70"/><circle cx="160.7" cy="625.8" r="1.70"/><circle cx="151.8" cy="629.2" r="1.70"/><circle cx="151.1" cy="632.9" r="1.70"/><circle cx="155.9" cy="632.9" r="1.70"/><circle cx="161.1" cy="632.8" r="1.70"/><circle cx="161.9" cy="632.2" r="1.70"/><circle cx="162.4" cy="631.4" r="1.70"/><circle cx="164.1" cy="631.2" r="1.70"/><circle cx="168.8" cy="616.6" r="1.70"/><circle cx="168.5" cy="619.9" r="1.70"/><circle cx="172.9" cy="622.6" r="1.70"/><circle cx="175.7" cy="615.1" r="1.70"/><circle cx="175.4" cy="625.4" r="1.70"/><circle cx="178.3" cy="630.2" r="1.70"/><circle cx="174.7" cy="634.6" r="1.70"/><circle cx="185.4" cy="630.8" r="1.70"/><circle cx="189.6" cy="615.1" r="1.70"/><circle cx="188.5" cy="621.6" r="1.70"/><circle cx="191.1" cy="622.9" r="1.70"/><circle cx="204.2" cy="621.4" r="1.70"/><circle cx="205.5" cy="627.7" r="1.70"/><circle cx="197.1" cy="638.3" r="1.70"/><circle cx="197.1" cy="640.2" r="1.70"/><circle cx="190.4" cy="639.6" r="1.70"/><circle cx="172.2" cy="639.6" r="1.70"/><circle cx="165.7" cy="641.5" r="1.70"/><circle cx="171.8" cy="645.0" r="1.70"/><circle cx="154.9" cy="638.7" r="1.70"/><circle cx="144.0" cy="637.1" r="1.70"/><circle cx="141.1" cy="639.8" r="1.70"/><circle cx="144.4" cy="640.9" r="1.70"/><circle cx="134.9" cy="639.8" r="1.70"/><circle cx="129.3" cy="644.4" r="1.70"/><circle cx="147.5" cy="644.4" r="1.70"/><circle cx="186.9" cy="648.8" r="1.70"/><circle cx="180.8" cy="652.5" r="1.70"/><circle cx="228.2" cy="609.2" r="1.70"/><circle cx="268.2" cy="616.7" r="1.70"/><circle cx="261.6" cy="624.3" r="1.70"/><circle cx="219.2" cy="625.5" r="1.70"/><circle cx="243.4" cy="632.1" r="1.70"/><circle cx="252.1" cy="632.1" r="1.70"/><circle cx="288.6" cy="636.8" r="1.70"/><circle cx="212.9" cy="643.4" r="1.70"/><circle cx="215.0" cy="644.4" r="1.70"/><circle cx="228.6" cy="642.7" r="1.70"/><circle cx="224.6" cy="646.3" r="1.70"/><circle cx="243.0" cy="645.0" r="1.70"/><circle cx="262.1" cy="647.1" r="1.70"/><circle cx="256.2" cy="651.2" r="1.70"/><circle cx="249.1" cy="652.5" r="1.70"/><circle cx="227.1" cy="652.5" r="1.70"/><circle cx="217.6" cy="652.8" r="1.70"/><circle cx="68.8" cy="655.5" r="1.70"/><circle cx="73.2" cy="655.5" r="1.70"/><circle cx="84.0" cy="656.5" r="1.70"/><circle cx="83.8" cy="665.9" r="1.70"/><circle cx="83.8" cy="670.9" r="1.70"/><circle cx="92.2" cy="669.9" r="1.70"/><circle cx="122.5" cy="655.5" r="1.70"/><circle cx="136.1" cy="673.7" r="1.70"/><circle cx="152.5" cy="686.0" r="1.70"/><circle cx="169.0" cy="659.6" r="1.70"/><circle cx="171.5" cy="662.2" r="1.70"/><circle cx="180.3" cy="664.3" r="1.70"/><circle cx="239.9" cy="666.8" r="1.70"/><circle cx="84.9" cy="533.9" r="1.70"/><circle cx="153.8" cy="557.3" r="1.70"/><circle cx="53.5" cy="588.7" r="1.70"/><circle cx="68.6" cy="587.4" r="1.70"/><circle cx="104.5" cy="585.7" r="1.70"/><circle cx="184.2" cy="563.7" r="1.70"/><circle cx="236.1" cy="567.8" r="1.70"/><circle cx="260.5" cy="566.9" r="1.70"/><circle cx="200.8" cy="577.1" r="1.70"/><circle cx="189.0" cy="581.0" r="1.70"/><circle cx="210.3" cy="580.0" r="1.70"/></g><line x1="36.7" y1="514.6" x2="36.7" y2="714.4" stroke="#707070" stroke-width="0.95"/><line x1="36.2" y1="713.9" x2="325.0" y2="713.9" stroke="#707070" stroke-width="0.95"/><line x1="35.7" y1="519.4" x2="36.7" y2="519.4" stroke="#444" stroke-width="0.8"/><text class="t" text-anchor="middle" transform="translate(31.70,519.40) rotate(-90) scale(0.1)">1</text><line x1="35.7" y1="567.0" x2="36.7" y2="567.0" stroke="#444" stroke-width="0.8"/><text class="t" text-anchor="middle" transform="translate(31.70,567.00) rotate(-90) scale(0.1)">.5</text><line x1="35.7" y1="614.2" x2="36.7" y2="614.2" stroke="#444" stroke-width="0.8"/><text class="t" text-anchor="middle" transform="translate(31.70,614.20) rotate(-90) scale(0.1)">0</text><line x1="35.7" y1="661.5" x2="36.7" y2="661.5" stroke="#444" stroke-width="0.8"/><text class="t" text-anchor="middle" transform="translate(31.70,661.65) rotate(-90) scale(0.1)">-.5</text><line x1="35.7" y1="708.6" x2="36.7" y2="708.6" stroke="#444" stroke-width="0.8"/><text class="t" text-anchor="middle" transform="translate(31.70,709.30) rotate(-90) scale(0.1)">-1</text><line x1="53.5" y1="713.9" x2="53.5" y2="714.9" stroke="#444" stroke-width="0.8"/><text class="t" text-anchor="middle" transform="translate(53.50,723.70) scale(0.1)">1</text><line x1="120.0" y1="713.9" x2="120.0" y2="714.9" stroke="#444" stroke-width="0.8"/><text class="t" text-anchor="middle" transform="translate(120.00,723.70) scale(0.1)">2</text><line x1="186.5" y1="713.9" x2="186.5" y2="714.9" stroke="#444" stroke-width="0.8"/><text class="t" text-anchor="middle" transform="translate(186.50,723.70) scale(0.1)">3</text><line x1="253.0" y1="713.9" x2="253.0" y2="714.9" stroke="#444" stroke-width="0.8"/><text class="t" text-anchor="middle" transform="translate(253.00,723.70) scale(0.1)">4</text><line x1="319.5" y1="713.9" x2="319.5" y2="714.9" stroke="#444" stroke-width="0.8"/><text class="t" text-anchor="middle" transform="translate(319.50,723.70) scale(0.1)">5</text><text class="l" text-anchor="middle" transform="translate(181.00,733.50) scale(0.0994,0.1)" xml:space="preserve">mean n-3 total (g/day)</text><text class="v" text-anchor="middle" transform="translate(18.30,612.50) rotate(-90) scale(0.1148,0.1)" xml:space="preserve">difference n-3 total (g/day)</text><text class="p" x="52.6" y="519.4">E</text></g>
</svg></body></html>
